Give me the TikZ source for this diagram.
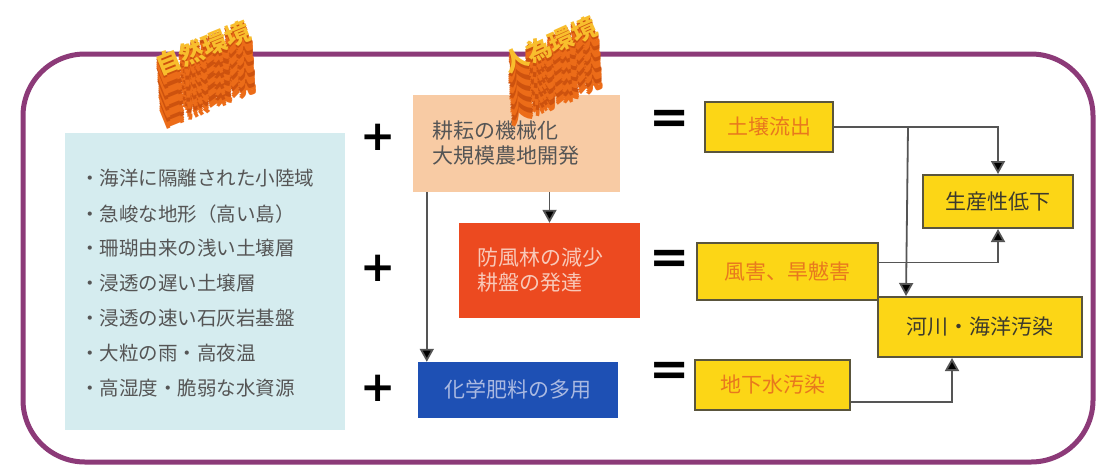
\documentclass[tikz,border=0pt]{standalone}
\usepackage{fontspec}
\newfontfamily\cjk{Noto Sans CJK JP}
\newfontfamily\dvs{DejaVu Sans}
\usetikzlibrary{arrows.meta}
\definecolor{frame}{RGB}{140,58,120}
\definecolor{lblue}{RGB}{213,236,239}
\definecolor{peach}{RGB}{248,203,164}
\definecolor{redbox}{RGB}{236,74,32}
\definecolor{bluebox}{RGB}{30,80,180}
\definecolor{ybox}{RGB}{252,214,22}
\definecolor{yborder}{RGB}{90,85,60}
\definecolor{otxt}{RGB}{232,120,30}
\definecolor{dtxt}{RGB}{60,58,45}
\definecolor{gtxt}{RGB}{85,85,85}
\definecolor{conn}{RGB}{85,85,85}
\definecolor{exA}{RGB}{205,82,14}
\definecolor{exB}{RGB}{236,108,24}
\definecolor{topgold}{RGB}{248,190,45}
\tikzset{
  jp/.style={font=\cjk\fontsize{#1}{#1}\selectfont},
  bul/.style={anchor=west, text=gtxt, inner sep=0pt, jp=19.5},
  ybx/.style={draw=yborder, line width=2pt, fill=ybox, inner sep=0pt, jp=21},
  sign/.style={font=\dvs\bfseries\fontsize{#1}{#1}\selectfont, text=black, inner sep=0pt},
  cn/.style={draw=conn, line width=1.8pt},
  ar/.style={cn, -{Triangle[length=13pt,width=14pt,fill=black]}},
  three/.style={font={\cjk\bfseries\fontsize{25}{25}\selectfont}, inner sep=0pt}
}
\begin{document}
\begin{tikzpicture}[x=1pt,y=-1pt]
\useasboundingbox (0,0) rectangle (1099,469);
\fill[white] (0,0) rectangle (1099,469);
% frame
\draw[frame, line width=5pt, rounded corners=62pt] (23,54) rectangle (1093,462);
% left box
\node[fill=lblue, minimum width=280pt, minimum height=297pt, inner sep=0pt] (env) at (205,281.5) {};
\node[bul] (b1) at (80,178) {・海洋に隔離された小陸域};
\node[bul] (b2) at (80,214) {・急峻な地形（高い島）};
\node[bul] (b3) at (80,248) {・珊瑚由来の浅い土壌層};
\node[bul] (b4) at (80,283) {・浸透の遅い土壌層};
\node[bul] (b5) at (80,318) {・浸透の速い石灰岩基盤};
\node[bul] (b6) at (80,353) {・大粒の雨・高夜温};
\node[bul] (b7) at (80,388) {・高湿度・脆弱な水資源};
% plus signs
\node[sign=42] (p1) at (378,137) {+};
\node[sign=42] (p2) at (378,268) {+};
\node[sign=42] (p3) at (378,388) {+};
% middle boxes
\node[fill=peach, minimum width=207pt, minimum height=97pt, text width=169pt, inner xsep=19pt, inner ysep=0pt, align=left, text=gtxt, jp=21] (mech) at (516.5,143.5) {耕耘の機械化\\[4pt]大規模農地開発};
\node[fill=redbox, minimum width=181pt, minimum height=95pt, text width=145pt, inner xsep=18pt, inner ysep=0pt, align=left, text={rgb,255:red,248;green,200;blue,184}, jp=21] (wind0) at (549.5,270.5) {防風林の減少\\[4pt]耕盤の発達};
\node[fill=bluebox, minimum width=200pt, minimum height=56pt, inner sep=0pt, text={rgb,255:red,170;green,185;blue,225}, jp=21] (chem) at (518,390) {化学肥料の多用};
% equals signs
\node[sign=48] (e1) at (670,122) {=};
\node[sign=48] (e2) at (670,262) {=};
\node[sign=48] (e3) at (670,374) {=};
% result boxes
\node[ybx, minimum width=128pt, minimum height=50pt, text=otxt] (soil) at (769,127) {土壌流出};
\node[ybx, minimum width=150pt, minimum height=53pt, text=dtxt] (prod) at (998,201.5) {生産性低下};
\node[ybx, minimum width=181pt, minimum height=57pt, text=otxt] (wind) at (787.5,271.5) {風害、旱魃害};
\node[ybx, minimum width=204pt, minimum height=60pt, text=dtxt] (river) at (980,327) {河川・海洋汚染};
\node[ybx, minimum width=155pt, minimum height=50pt, text=otxt] (gw) at (772.5,385) {地下水汚染};
% connectors
\draw[ar] (mech.south -| wind0.north) -- (wind0.north);
\draw[ar] ([xshift=14pt]mech.south west) -- ([xshift=9pt]chem.north west);
\draw[ar] (soil.east) -| (prod.north);
\draw[ar] ([xshift=74pt]soil.east) -- ([xshift=29pt]river.north west);
\draw[ar] ([yshift=9pt]wind.east) -| (prod.south);
\draw[ar] ([yshift=-17pt]gw.east) -| ([xshift=-28pt]river.south);
% 3D labels
\foreach \i in {24,...,1}{
  \pgfmathtruncatemacro\m{mod(\i,5)}
  \ifnum\m<2 \def\cc{exA}\else\def\cc{exB}\fi
  \node[three, rotate=22, text=\cc] (la\i) at ({203+0.15*\i},{48+2.2*\i}) {自然環境};
  \node[three, rotate=24, text=\cc] (lb\i) at ({550+0.15*\i},{45+2.2*\i}) {人為環境};
}
\node[three, rotate=22, text=topgold] (la) at (203,48) {自然環境};
\node[three, rotate=24, text=topgold] (lb) at (550,45) {人為環境};
\end{tikzpicture}
\end{document}
